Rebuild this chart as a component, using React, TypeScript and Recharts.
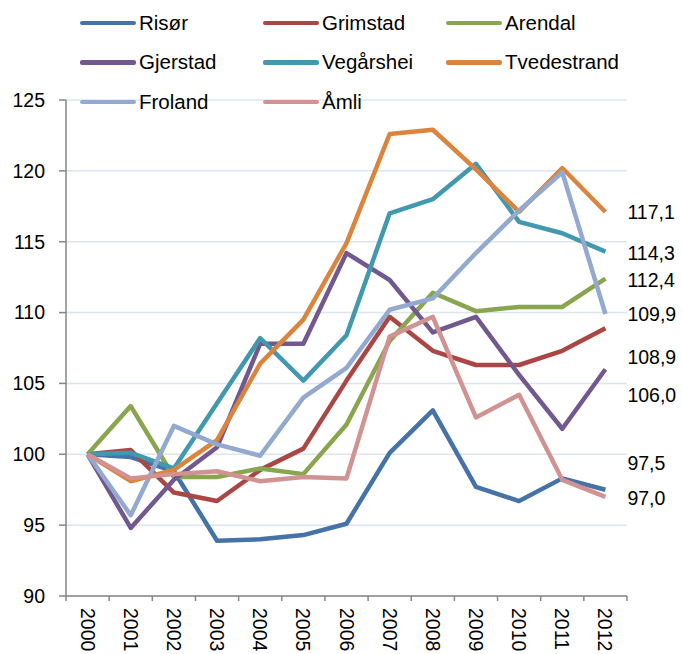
import { LineChart, Line, XAxis, YAxis, CartesianGrid, Legend, LabelList } from 'recharts';

const years = ['2000', '2001', '2002', '2003', '2004', '2005', '2006', '2007', '2008', '2009', '2010', '2011', '2012'];

const risor = [100, 99.8, 98.8, 93.9, 94.0, 94.3, 95.1, 100.1, 103.1, 97.7, 96.7, 98.3, 97.5];
const grimstad = [100, 100.3, 97.3, 96.7, 98.9, 100.4, 105.2, 109.7, 107.3, 106.3, 106.3, 107.3, 108.9];
const arendal = [100, 103.4, 98.4, 98.4, 99.0, 98.6, 102.1, 108.0, 111.4, 110.1, 110.4, 110.4, 112.4];
const gjerstad = [100, 94.8, 98.2, 100.5, 107.8, 107.8, 114.2, 112.3, 108.6, 109.7, 105.6, 101.8, 106.0];
const vegarshei = [100, 100.1, 99.0, 103.6, 108.2, 105.2, 108.4, 117.0, 118.0, 120.5, 116.4, 115.6, 114.3];
const tvedestrand = [100, 98.1, 98.9, 101.0, 106.4, 109.5, 114.9, 122.6, 122.9, 120.1, 117.1, 120.2, 117.1];
const froland = [100, 95.7, 102.0, 100.7, 99.9, 104.0, 106.1, 110.2, 111.0, 114.2, 117.2, 119.9, 109.9];
const amli = [100, 98.3, 98.6, 98.8, 98.1, 98.4, 98.3, 108.3, 109.7, 102.6, 104.2, 98.2, 97.0];

const yTicks = [90, 95, 100, 105, 110, 115, 120, 125];

const series = [
  { key: 'risor', name: 'Risør', values: risor, color: '#4572A7', labelDy: -27 },
  { key: 'grimstad', name: 'Grimstad', values: grimstad, color: '#AA4643', labelDy: 29 },
  { key: 'arendal', name: 'Arendal', values: arendal, color: '#89A54E', labelDy: 1 },
  { key: 'gjerstad', name: 'Gjerstad', values: gjerstad, color: '#71588F', labelDy: 26 },
  { key: 'vegarshei', name: 'Vegårshei', values: vegarshei, color: '#4198AF', labelDy: 1 },
  { key: 'tvedestrand', name: 'Tvedestrand', values: tvedestrand, color: '#DB843D', labelDy: 0 },
  { key: 'froland', name: 'Froland', values: froland, color: '#93A9CF', labelDy: 0 },
  { key: 'amli', name: 'Åmli', values: amli, color: '#D19392', labelDy: 1 },
];

const data = years.map((year, i) => {
  const row: Record<string, string | number> = { year };
  series.forEach((s) => {
    row[s.key] = s.values[i];
  });
  return row;
});

const FONT = '"Liberation Sans", Arial, sans-serif';
const AXIS = '#868686';
const HALF_BAND = 561 / 13 / 2;

function YearTick(props: any) {
  const { x, y, payload, index } = props;
  const axisY = y - 12;
  return (
    <g>
      <line x1={x - HALF_BAND} y1={axisY} x2={x - HALF_BAND} y2={axisY + 5} stroke={AXIS} strokeWidth={1.5} />
      {index === years.length - 1 && (
        <line x1={x + HALF_BAND} y1={axisY} x2={x + HALF_BAND} y2={axisY + 5} stroke={AXIS} strokeWidth={1.5} />
      )}
      <text
        x={x}
        y={y}
        transform={`rotate(90, ${x}, ${y})`}
        textAnchor="start"
        dominantBaseline="central"
        fontSize={19.5}
        fontFamily={FONT}
        fill="#000"
      >
        {payload.value}
      </text>
    </g>
  );
}

function LegendBox() {
  return (
    <div
      style={{
        display: 'grid',
        gridTemplateColumns: '183px 183px 183px',
        gridAutoRows: '39.5px',
        fontFamily: FONT,
        fontSize: 20.5,
        color: '#000',
      }}
    >
      {series.map((s) => (
        <div key={s.key} style={{ display: 'flex', alignItems: 'center', height: 39.5 }}>
          <span
            style={{
              display: 'inline-block',
              width: 56,
              height: 4.5,
              borderRadius: 2,
              background: s.color,
              marginRight: 3,
            }}
          />
          <span>{s.name}</span>
        </div>
      ))}
    </div>
  );
}

function endLabel(dy: number) {
  return (props: any) => {
    const { x, y, value, index } = props;
    if (index !== years.length - 1) return null;
    return (
      <text
        x={x + 22}
        y={y + dy}
        dominantBaseline="central"
        fontSize={19.5}
        fontFamily={FONT}
        fill="#000"
      >
        {Number(value).toFixed(1).replace('.', ',')}
      </text>
    );
  };
}

export default function App() {
  return (
    <div style={{ position: 'absolute', left: 0, top: 0, width: 682, height: 654, background: '#fff' }}>
      <LineChart width={682} height={654} data={data} margin={{ top: 100, right: 55, left: 0, bottom: 0 }}>
        <CartesianGrid vertical={false} stroke="#dce6f2" strokeWidth={1.5} />
        <XAxis
          dataKey="year"
          scale="band"
          interval={0}
          height={58}
          tickSize={5}
          tickMargin={7}
          tickLine={false}
          axisLine={{ stroke: AXIS, strokeWidth: 1.5 }}
          tick={<YearTick />}
        />
        <YAxis
          domain={[90, 125]}
          ticks={yTicks}
          width={66}
          tickSize={7}
          tickMargin={14}
          axisLine={{ stroke: AXIS, strokeWidth: 1.5 }}
          tickLine={{ stroke: AXIS, strokeWidth: 1.5 }}
          tick={{ fontSize: 19.5, fontFamily: FONT, fill: '#000' }}
        />
        <Legend
          layout="horizontal"
          verticalAlign="middle"
          align="center"
          content={<LegendBox />}
          wrapperStyle={{ top: 3, left: 80, width: 560 }}
        />
        {series.map((s) => (
          <Line
            key={s.key}
            type="linear"
            dataKey={s.key}
            name={s.name}
            stroke={s.color}
            strokeWidth={4.5}
            strokeLinejoin="round"
            dot={false}
            activeDot={false}
            isAnimationActive={false}
          >
            <LabelList dataKey={s.key} content={endLabel(s.labelDy)} />
          </Line>
        ))}
      </LineChart>
    </div>
  );
}
